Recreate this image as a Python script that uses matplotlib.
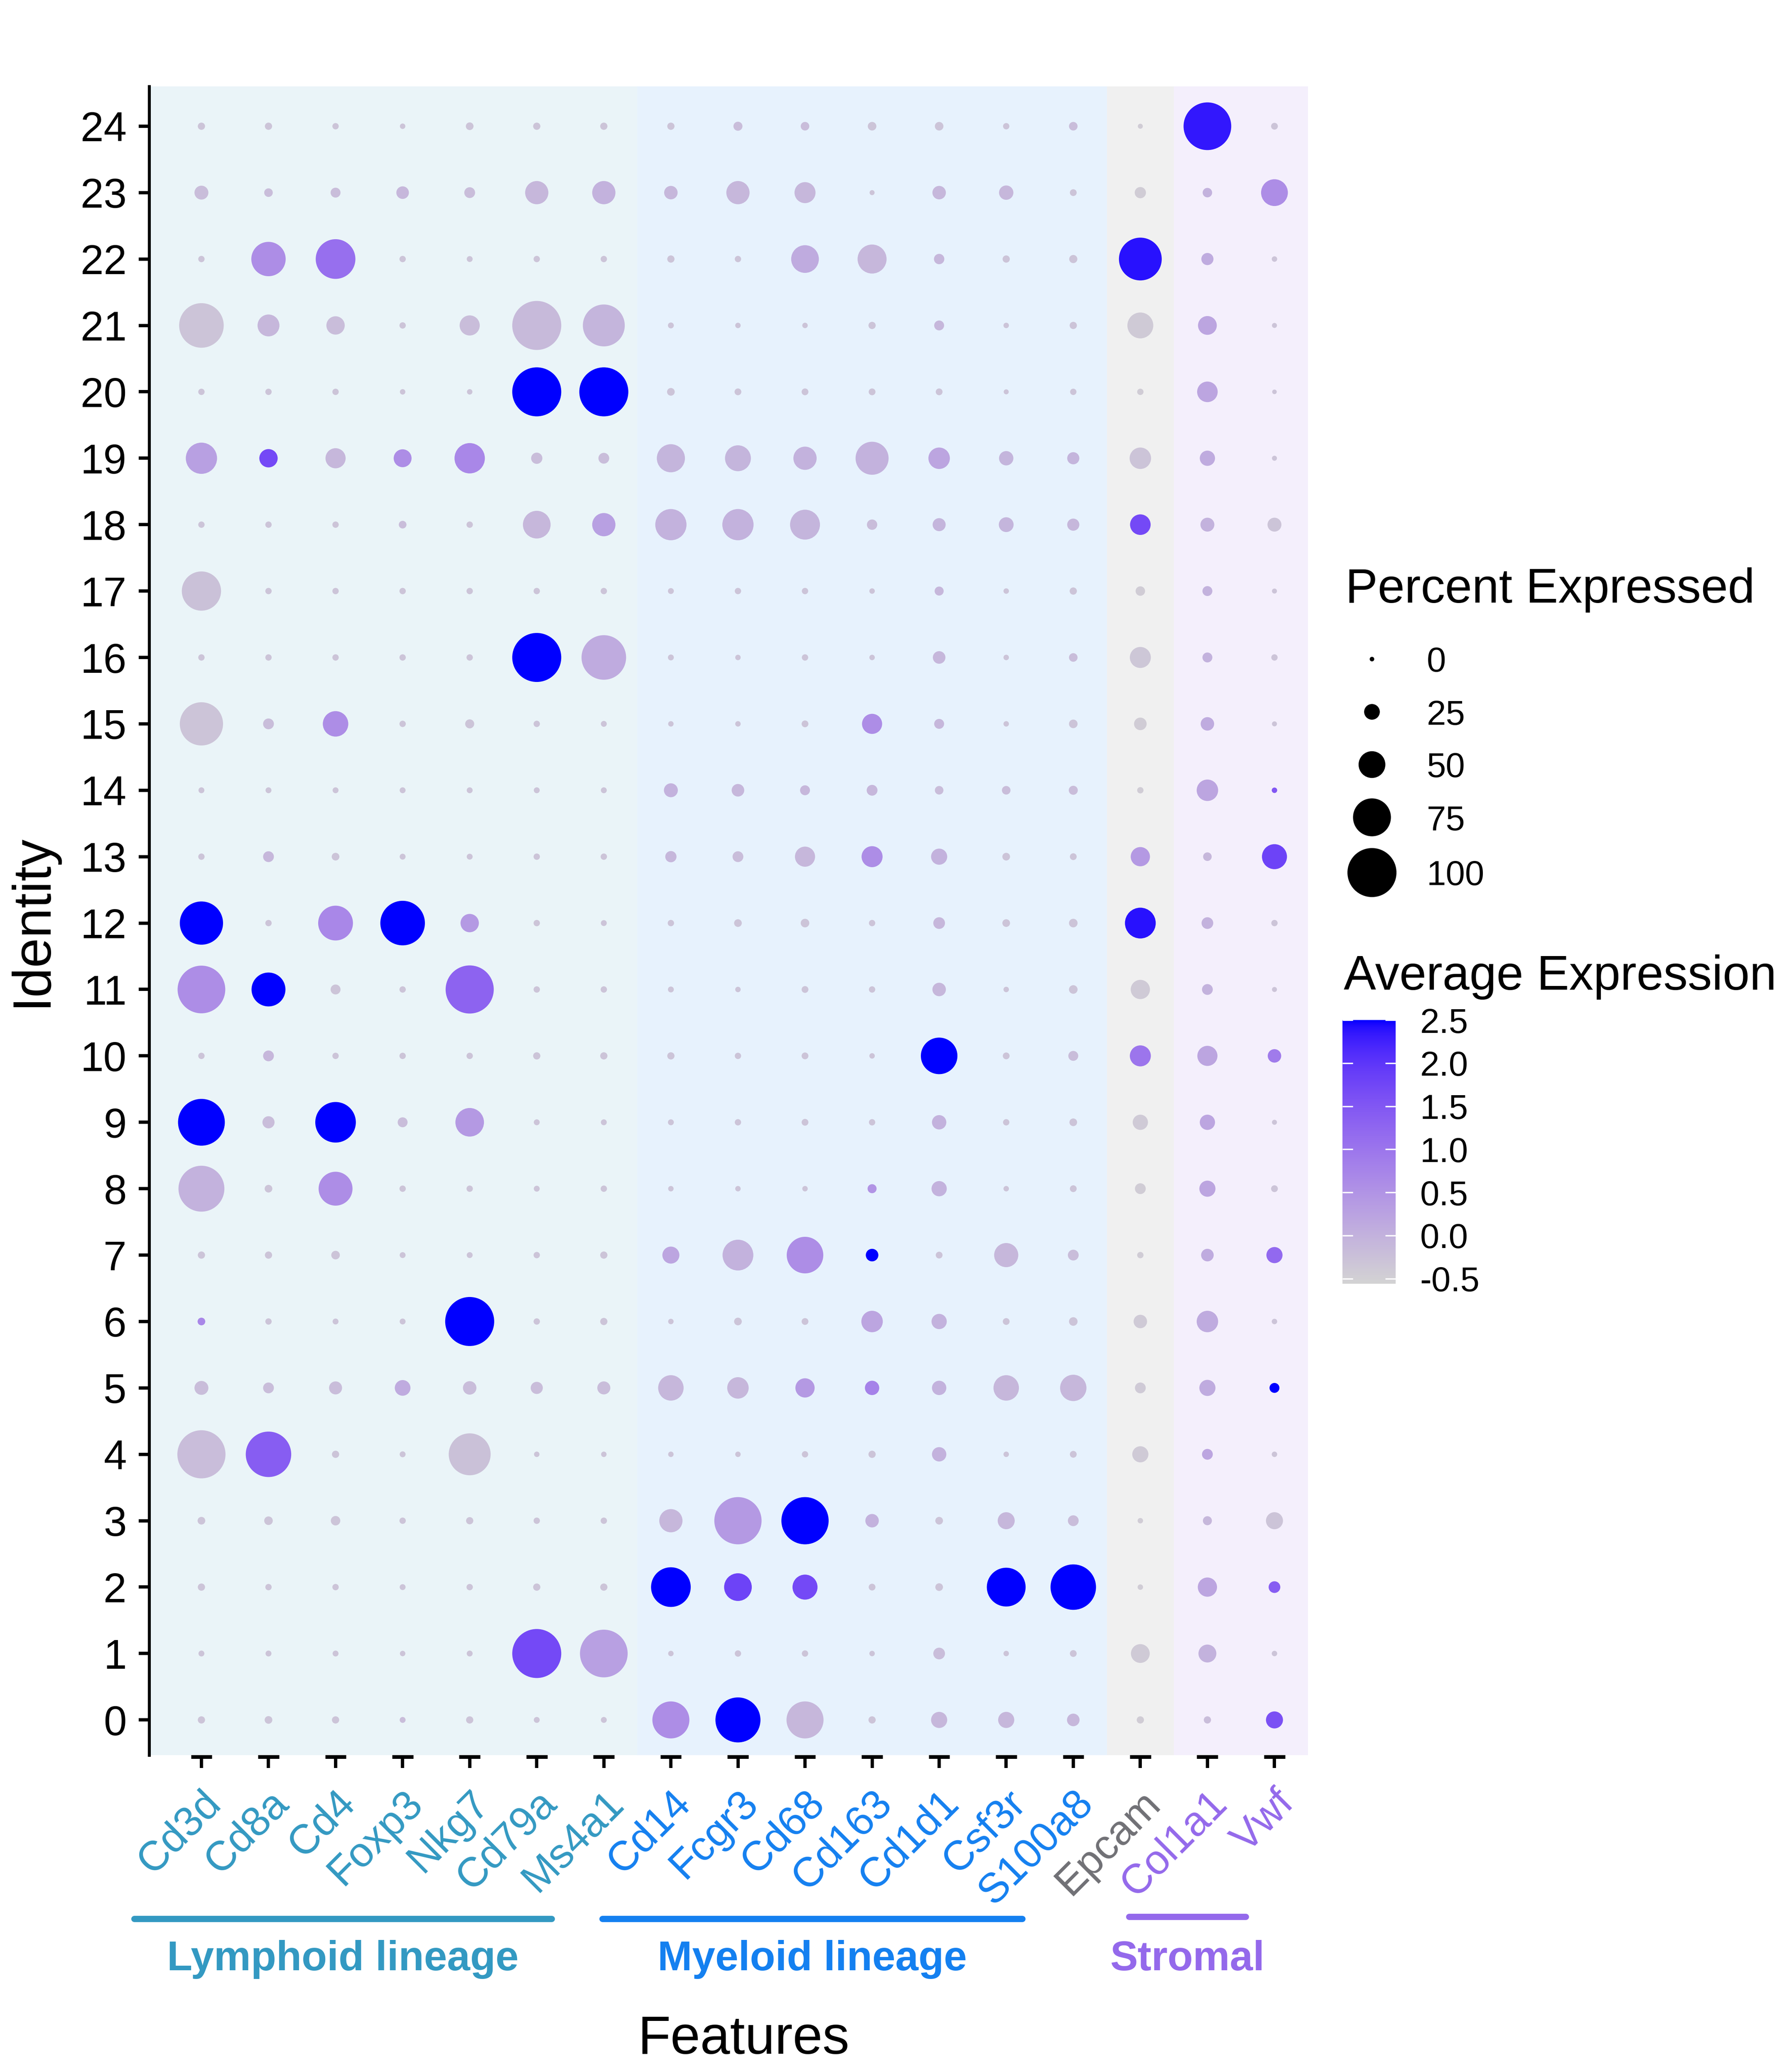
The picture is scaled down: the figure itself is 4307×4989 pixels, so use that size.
import numpy as np
import matplotlib
matplotlib.use("Agg")
import matplotlib.pyplot as plt
from matplotlib.colors import ListedColormap, Normalize, to_rgb
from matplotlib.cm import ScalarMappable

plt.rcParams['font.family'] = ['Liberation Sans', 'DejaVu Sans']

# ---- data ----
genes = ['Cd3d', 'Cd8a', 'Cd4', 'Foxp3', 'Nkg7', 'Cd79a', 'Ms4a1',
         'Cd14', 'Fcgr3', 'Cd68', 'Cd163', 'Cd1d1', 'Csf3r', 'S100a8',
         'Epcam', 'Col1a1', 'Vwf']
gene_group = ['lymphoid'] * 7 + ['myeloid'] * 7 + ['epcam'] + ['stromal'] * 2
clusters = list(range(25))

# percent of cells expressing, rows = cluster 0..24, cols = genes
pct_expressed = np.array([
    [6, 7, 6, 3, 6, 3, 3, 73, 91, 73, 6, 26, 26, 18, 6, 6, 28],
    [3, 3, 3, 2, 3, 100, 97, 2, 4, 4, 2, 16, 2, 5, 32, 30, 2],
    [6, 4, 4, 3, 4, 6, 6, 79, 52, 46, 5, 7, 77, 92, 2, 33, 16],
    [7, 9, 11, 4, 6, 4, 4, 42, 96, 96, 20, 7, 28, 14, 2, 10, 28],
    [98, 92, 6, 3, 84, 2, 2, 2, 2, 4, 6, 22, 2, 5, 26, 14, 2],
    [21, 14, 19, 25, 20, 17, 19, 47, 38, 33, 22, 22, 47, 49, 14, 26, 12],
    [7, 4, 3, 3, 100, 4, 6, 2, 7, 5, 38, 24, 5, 9, 20, 38, 2],
    [6, 6, 9, 3, 3, 4, 6, 28, 59, 72, 18, 5, 44, 14, 4, 18, 26],
    [93, 7, 66, 4, 4, 3, 4, 2, 2, 2, 10, 24, 2, 5, 14, 26, 5],
    [95, 17, 81, 12, 54, 3, 3, 3, 4, 5, 4, 22, 4, 7, 24, 24, 1],
    [4, 14, 4, 4, 4, 6, 6, 6, 4, 5, 2, 72, 5, 12, 37, 35, 20],
    [97, 66, 12, 4, 98, 4, 4, 3, 2, 5, 4, 20, 2, 9, 33, 14, 1],
    [87, 4, 68, 90, 31, 4, 3, 4, 7, 9, 4, 16, 7, 9, 59, 16, 4],
    [4, 14, 7, 3, 3, 4, 4, 15, 14, 35, 37, 26, 7, 5, 33, 9, 46],
    [3, 3, 3, 3, 3, 3, 3, 21, 18, 12, 14, 9, 9, 10, 4, 38, 2],
    [87, 14, 47, 4, 10, 4, 3, 2, 2, 5, 35, 12, 2, 9, 18, 20, 1],
    [4, 4, 4, 4, 4, 100, 90, 3, 2, 4, 2, 18, 2, 9, 37, 12, 4],
    [78, 4, 4, 4, 4, 4, 4, 3, 4, 4, 2, 10, 2, 6, 11, 12, 1],
    [4, 4, 4, 7, 4, 52, 42, 60, 60, 57, 13, 19, 23, 17, 36, 21, 21],
    [60, 31, 35, 30, 58, 15, 14, 53, 48, 42, 64, 38, 22, 17, 38, 24, 1],
    [4, 4, 4, 2, 2, 100, 100, 7, 5, 5, 5, 5, 1, 4, 4, 36, 0],
    [90, 39, 31, 4, 35, 100, 84, 3, 2, 2, 6, 12, 2, 6, 48, 32, 1],
    [4, 67, 79, 4, 3, 4, 4, 6, 4, 52, 55, 13, 6, 8, 86, 17, 2],
    [21, 9, 12, 18, 14, 42, 42, 20, 42, 37, 1, 20, 22, 5, 15, 11, 50],
    [6, 6, 4, 2, 7, 6, 6, 6, 10, 9, 9, 9, 4, 9, 1, 97, 5],
])

# scaled average expression, same layout
avg_expression = np.array([
    [-0.3, -0.3, -0.3, -0.2, -0.3, -0.3, -0.3, 0.6, 2.5, -0.1, -0.3, -0.1, -0.1, -0.1, -0.45, -0.2, 1.6],
    [-0.3, -0.3, -0.3, -0.3, -0.3, 1.7, 0.3, -0.3, -0.3, -0.3, -0.3, -0.2, -0.3, -0.3, -0.4, 0.0, -0.3],
    [-0.3, -0.3, -0.3, -0.3, -0.3, -0.3, -0.3, 2.5, 1.8, 1.7, -0.3, -0.3, 2.5, 2.5, -0.45, 0.2, 1.4],
    [-0.3, -0.3, -0.3, -0.3, -0.3, -0.3, -0.3, -0.1, 0.4, 2.5, 0.0, -0.3, -0.1, -0.2, -0.45, -0.1, -0.3],
    [-0.2, 1.4, -0.3, -0.3, -0.25, -0.3, -0.3, -0.3, -0.3, -0.3, -0.3, 0.0, -0.3, -0.3, -0.4, 0.2, -0.3],
    [-0.2, -0.2, -0.2, 0.1, -0.2, -0.2, -0.2, -0.1, -0.1, 0.4, 0.8, 0.0, -0.1, -0.1, -0.4, 0.1, 2.5],
    [0.7, -0.3, -0.3, -0.3, 2.5, -0.3, -0.3, -0.3, -0.3, -0.3, 0.2, 0.0, -0.3, -0.3, -0.4, 0.1, -0.3],
    [-0.3, -0.3, -0.3, -0.3, -0.3, -0.3, -0.3, 0.2, 0.0, 0.6, 2.5, -0.3, -0.1, -0.2, -0.45, 0.1, 1.2],
    [0.0, -0.3, 0.6, -0.3, -0.3, -0.3, -0.3, -0.3, -0.3, -0.3, 0.5, 0.0, -0.3, -0.3, -0.45, 0.2, -0.3],
    [2.5, -0.2, 2.5, -0.2, 0.4, -0.3, -0.3, -0.3, -0.3, -0.3, -0.3, 0.0, -0.3, -0.3, -0.4, 0.2, -0.3],
    [-0.3, -0.1, -0.3, -0.3, -0.3, -0.3, -0.3, -0.3, -0.3, -0.3, -0.3, 2.5, -0.3, -0.2, 1.0, 0.2, 0.9],
    [0.6, 2.5, -0.3, -0.3, 1.3, -0.3, -0.3, -0.3, -0.3, -0.3, -0.3, -0.1, -0.3, -0.3, -0.4, 0.0, -0.3],
    [2.5, -0.3, 0.7, 2.5, 0.4, -0.3, -0.3, -0.3, -0.3, -0.3, -0.3, -0.1, -0.3, -0.3, 2.4, 0.0, -0.3],
    [-0.3, -0.1, -0.3, -0.3, -0.3, -0.3, -0.3, -0.1, -0.2, -0.1, 0.6, 0.0, -0.3, -0.3, 0.4, -0.1, 1.8],
    [-0.3, -0.3, -0.3, -0.3, -0.3, -0.3, -0.3, 0.0, -0.1, -0.1, -0.1, -0.2, -0.2, -0.2, -0.45, 0.2, 1.5],
    [-0.3, -0.2, 0.6, -0.3, -0.3, -0.3, -0.3, -0.3, -0.3, -0.3, 0.6, -0.1, -0.3, -0.3, -0.45, 0.1, -0.3],
    [-0.3, -0.3, -0.3, -0.3, -0.3, 2.5, 0.1, -0.3, -0.3, -0.3, -0.3, -0.1, -0.3, -0.2, -0.35, 0.0, -0.3],
    [-0.25, -0.3, -0.3, -0.3, -0.3, -0.3, -0.3, -0.3, -0.3, -0.3, -0.3, -0.1, -0.3, -0.3, -0.45, 0.0, -0.3],
    [-0.3, -0.3, -0.3, -0.2, -0.3, -0.1, 0.3, 0.0, 0.0, -0.05, -0.2, -0.05, -0.05, -0.1, 1.7, 0.0, -0.3],
    [0.3, 1.7, -0.1, 0.6, 0.7, -0.2, -0.2, -0.05, -0.05, 0.0, 0.0, 0.2, -0.05, -0.05, -0.3, 0.1, -0.3],
    [-0.3, -0.3, -0.3, -0.3, -0.3, 2.5, 2.5, -0.3, -0.3, -0.3, -0.3, -0.3, -0.3, -0.3, -0.45, 0.2, -0.3],
    [-0.3, -0.1, -0.2, -0.3, -0.2, -0.15, -0.05, -0.3, -0.3, -0.3, -0.3, -0.1, -0.3, -0.3, -0.4, 0.2, -0.3],
    [-0.3, 0.6, 1.1, -0.3, -0.3, -0.3, -0.3, -0.3, -0.3, 0.1, -0.1, -0.1, -0.3, -0.3, 2.4, 0.1, -0.3],
    [-0.2, -0.2, -0.2, -0.1, -0.2, -0.1, 0.0, -0.1, -0.1, -0.1, -0.3, -0.1, -0.1, -0.3, -0.45, 0.0, 0.6],
    [-0.3, -0.3, -0.3, -0.3, -0.3, -0.3, -0.3, -0.3, -0.2, -0.2, -0.3, -0.3, -0.3, -0.2, -0.45, 2.35, -0.3],
])

size_breaks = [0, 25, 50, 75, 100]
avg_breaks = [-0.5, 0.0, 0.5, 1.0, 1.5, 2.0, 2.5]

group_colors = {'lymphoid': '#3399C2', 'myeloid': '#1480F0',
                'epcam': '#707075', 'stromal': '#9469EB'}
group_spans = [('lymphoid', -2, 6.5), ('myeloid', 6.5, 13.5),
               ('epcam', 13.5, 14.5), ('stromal', 14.5, 18)]
# bracket label, group, x start, x end (data units under the rotated labels), lift
brackets = [('Lymphoid lineage', 'lymphoid', -1.0, 5.22, 0.0),
            ('Myeloid lineage', 'myeloid', 5.98, 12.24, 0.0),
            ('Stromal', 'stromal', 13.83, 15.57, 0.0012)]


# ---- ggplot-like lightgrey -> blue gradient (interpolated in CIELAB) ----
def srgb_to_lab(rgb):
    c = np.asarray(rgb, float)
    lin = np.where(c <= 0.04045, c / 12.92, ((c + 0.055) / 1.055) ** 2.4)
    m = np.array([[0.4124, 0.3576, 0.1805],
                  [0.2126, 0.7152, 0.0722],
                  [0.0193, 0.1192, 0.9505]])
    xyz = m @ lin / np.array([0.95047, 1.0, 1.08883])
    f = np.where(xyz > 0.008856, np.cbrt(xyz), 7.787 * xyz + 16 / 116)
    return np.array([116 * f[1] - 16, 500 * (f[0] - f[1]), 200 * (f[1] - f[2])])


def lab_to_srgb(lab):
    L, a, b = lab
    fy = (L + 16) / 116
    fx = fy + a / 500
    fz = fy - b / 200
    f = np.array([fx, fy, fz])
    xyz = np.where(f ** 3 > 0.008856, f ** 3, (f - 16 / 116) / 7.787)
    xyz = xyz * np.array([0.95047, 1.0, 1.08883])
    m = np.array([[3.2406, -1.5372, -0.4986],
                  [-0.9689, 1.8758, 0.0415],
                  [0.0557, -0.2040, 1.0570]])
    lin = np.clip(m @ xyz, 0, 1)
    c = np.where(lin <= 0.0031308, 12.92 * lin, 1.055 * lin ** (1 / 2.4) - 0.055)
    return np.clip(c, 0, 1)


lab_lo = srgb_to_lab(to_rgb('lightgrey'))
lab_hi = srgb_to_lab(to_rgb('blue'))
cmap = ListedColormap([lab_to_srgb(lab_lo + t * (lab_hi - lab_lo))
                       for t in np.linspace(0, 1, 256)])
norm = Normalize(vmin=-0.56, vmax=2.5)


def dot_size(p):
    # diameter in pixels at 300 dpi -> marker area in pt^2
    d_px = 11 + 1.07 * np.asarray(p, float)
    return (d_px * 72 / 300) ** 2


# ---- figure ----
W, H, DPI = 4307, 4989, 300
fig = plt.figure(figsize=(W / DPI, H / DPI), dpi=DPI)
ax = fig.add_axes([359 / W, 1 - 4226 / H, (3149 - 359) / W, (4226 - 208) / H])

for grp, x0, x1 in group_spans:
    ax.axvspan(x0, x1, color=group_colors[grp], alpha=0.1, lw=0, zorder=0)

xx, yy = np.meshgrid(np.arange(len(genes)), clusters)
ax.scatter(xx.ravel(), yy.ravel(), s=dot_size(pct_expressed.ravel()),
           c=avg_expression.ravel(), cmap=cmap, norm=norm, linewidths=0, zorder=3)

ax.set_xlim(-0.78, 16.5)
ax.set_ylim(-0.53, 24.6)
for side in ['top', 'right', 'bottom']:
    ax.spines[side].set_visible(False)
ax.spines['left'].set_linewidth(1.7)

ax.set_yticks(clusters)
ax.set_yticklabels([str(c) for c in clusters])
ax.tick_params(axis='y', length=6, width=1.9, pad=7, labelsize=24)

ax.set_xticks(np.arange(len(genes)))
ax.set_xticklabels(genes, rotation=45, ha='right', va='top', rotation_mode='anchor')
ax.tick_params(axis='x', length=7.4, width=1.9, pad=9, labelsize=24)
for lab, grp in zip(ax.get_xticklabels(), gene_group):
    lab.set_color(group_colors[grp])

# flat caps on top of the x ticks
xt = ax.get_xaxis_transform()
ax.hlines(np.full(len(genes), -0.0011), np.arange(len(genes)) - 0.157,
          np.arange(len(genes)) + 0.157, transform=xt, colors='black',
          lw=2.16, clip_on=False)

# lineage brackets and labels
for label, grp, x0, x1, dy in brackets:
    ax.plot([x0, x1], [-0.098 + dy, -0.098 + dy], transform=xt, clip_on=False,
            color=group_colors[grp], lw=3.6, solid_capstyle='round')
    ax.text((x0 + x1) / 2, -0.129, label, transform=xt, ha='center',
            va='baseline', fontsize=24, fontweight='bold', color=group_colors[grp])

fig.text(1790 / W, 1 - 4945 / H, 'Features', ha='center', va='baseline', fontsize=31)
fig.text(78 / W, 1 - 2217 / H, 'Identity', ha='center', va='center',
         rotation=90, fontsize=31)

# ---- legends (pixel coordinates overlay) ----
oax = fig.add_axes([0, 0, 1, 1])
oax.set_xlim(0, W)
oax.set_ylim(H, 0)
oax.axis('off')

oax.text(3239, 1451, 'Percent Expressed', ha='left', va='baseline', fontsize=28)
size_y = [1587, 1714, 1841, 1968, 2101]
oax.scatter([3303] * len(size_breaks), size_y, s=dot_size(size_breaks),
            color='black', linewidths=0)
for v, y in zip(size_breaks, size_y):
    oax.text(3435, y, str(v), ha='left', va='center_baseline', fontsize=20)

oax.text(3235, 2383, 'Average Expression', ha='left', va='baseline', fontsize=28)
cax = fig.add_axes([3232 / W, 1 - 3091 / H, 128 / W, 635 / H])
cb = fig.colorbar(ScalarMappable(norm=norm, cmap=cmap), cax=cax, ticks=avg_breaks)
cb.outline.set_visible(False)
cax.set_yticklabels([f'{v:.1f}' for v in avg_breaks])
cax.tick_params(axis='y', direction='in', length=6, width=0.8, color='white',
                left=True, right=True, labelleft=False, labelright=True,
                labelsize=20, pad=14)

fig.savefig('out.png', dpi=DPI)
